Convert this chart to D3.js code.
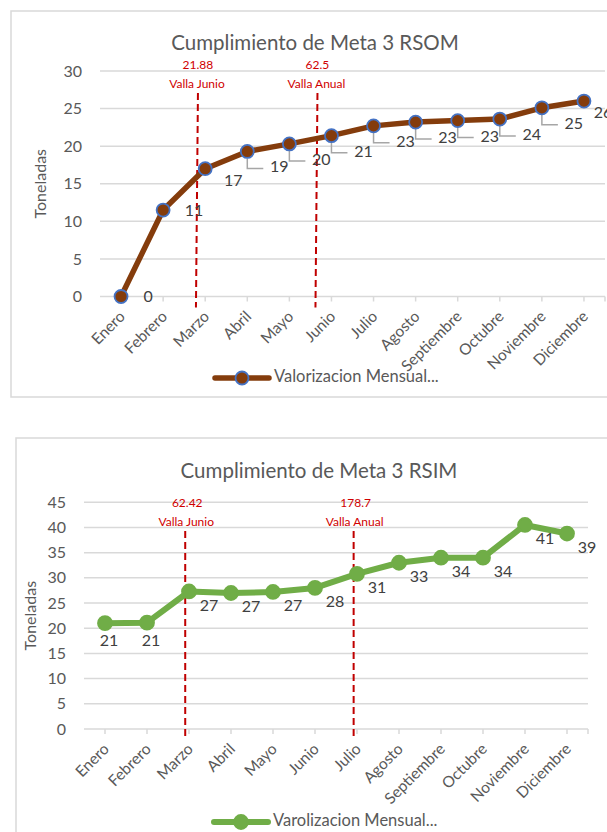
<!DOCTYPE html>
<html>
<head>
<meta charset="utf-8">
<script src="https://cdn.jsdelivr.net/npm/d3@7"></script>
<style>
  body { margin: 0; background: #fff; }
  text { font-family: Lato, "Open Sans", sans-serif; }
</style>
</head>
<body>
<svg id="viz"></svg>
<script>
// Month categories shared by both charts
let months = ['Enero', 'Febrero', 'Marzo', 'Abril', 'Mayo', 'Junio', 'Julio',
    'Agosto', 'Septiembre', 'Octubre', 'Noviembre', 'Diciembre'];

// RSOM series (tons)
let rsomValues = [0, 11.5, 17.0, 19.3, 20.3, 21.4, 22.7, 23.2, 23.4, 23.6, 25.1, 26.0];
let rsomLabels = ['0', '11', '17', '19', '20', '21', '23', '23', '23', '24', '25', '26'];
let rsomTicks = [0, 5, 10, 15, 20, 25, 30];
// "vallas": value + where the line sits, in month-index units
let rsomVallaNames = ['Valla Junio', 'Valla Anual'];
let rsomVallaValues = ['21.88', '62.5'];
let rsomVallaIndex = [1.78, 4.62];

// RSIM series
let rsimValues = [21.0, 21.1, 27.3, 27.0, 27.2, 28.0, 30.8, 33.0, 34.0, 34.0, 40.5, 38.8];
let rsimLabels = ['21', '21', '27', '27', '27', '28', '31', '33', '34', '34', '41', '39'];
let rsimTicks = [0, 5, 10, 15, 20, 25, 30, 35, 40, 45];
let rsimVallaNames = ['Valla Junio', 'Valla Anual'];
let rsimVallaValues = ['62.42', '178.7'];
let rsimVallaIndex = [1.91, 5.92];

let svg = d3.select('#viz')
    .attr('width', 607)
    .attr('height', 832);

let gridColor = '#d9d9d9';
let textColor = '#595959';
let red = '#d00000';

function drawChart(cfg) {
    let g = svg.append('g');

    // outer frame (runs off the right edge like the screenshot)
    g.append('rect')
        .attr('x', cfg.frame[0]).attr('y', cfg.frame[1])
        .attr('width', cfg.frame[2]).attr('height', cfg.frame[3])
        .attr('fill', 'none')
        .attr('stroke', gridColor)
        .attr('stroke-width', 1.5);

    let x = d3.scaleBand()
        .domain(months)
        .range([cfg.left, cfg.right]);
    let xi = d3.scaleLinear()
        .domain([-0.5, months.length - 0.5])
        .range([cfg.left, cfg.right]);
    let y = d3.scaleLinear()
        .domain([0, cfg.yMax])
        .range([cfg.bottom, cfg.top]);
    let cx = d => x(d) + x.bandwidth() / 2;

    // title
    g.append('text')
        .attr('x', cfg.titleX).attr('y', cfg.titleY)
        .attr('text-anchor', 'middle')
        .attr('dominant-baseline', 'middle')
        .attr('fill', textColor)
        .style('font-size', '20.5px')
        .text(cfg.title);

    // gridlines
    g.selectAll('.grid').data(cfg.ticks).enter().append('line')
        .attr('x1', cfg.left).attr('x2', cfg.right)
        .attr('y1', d => y(d)).attr('y2', d => y(d))
        .attr('stroke', gridColor)
        .attr('stroke-width', 1.5);

    // y axis labels
    let yAxis = d3.axisLeft(y).tickValues(cfg.ticks).tickSize(0).tickPadding(18);
    let ya = g.append('g').attr('transform', `translate(${cfg.left},0)`).call(yAxis);
    ya.select('.domain').remove();
    ya.selectAll('text')
        .attr('fill', textColor)
        .style('font-size', '16px')
        .style('font-family', 'Lato, sans-serif');

    g.append('text')
        .attr('transform', `translate(${cfg.axisTitleX},${(cfg.top + cfg.bottom) / 2}) rotate(-90)`)
        .attr('text-anchor', 'middle')
        .attr('dominant-baseline', 'middle')
        .attr('fill', textColor)
        .style('font-size', '16px')
        .text('Toneladas');

    // x ticks at category centres + right end
    let tickXs = months.map(cx).concat([cfg.right]);
    g.selectAll('.xtick').data(tickXs).enter().append('line')
        .attr('x1', d => d).attr('x2', d => d)
        .attr('y1', cfg.bottom).attr('y2', cfg.bottom + 5)
        .attr('stroke', gridColor)
        .attr('stroke-width', 1.5);

    // x labels, rotated
    g.selectAll('.xlab').data(months).enter().append('text')
        .attr('transform', d => `translate(${cx(d) + 5},${cfg.bottom + 21}) rotate(-45)`)
        .attr('text-anchor', 'end')
        .attr('fill', textColor)
        .style('font-size', '15.5px')
        .text(d => d);

    // vallas
    cfg.vallaIndex.forEach((v, i) => {
        let vx = xi(v);
        g.append('line')
            .attr('x1', vx + cfg.vallaLean).attr('x2', vx)
            .attr('y1', cfg.vallaTop).attr('y2', cfg.bottom + 11)
            .attr('stroke', '#c00000')
            .attr('stroke-width', 2)
            .attr('stroke-dasharray', '7,4');
        g.append('text')
            .attr('x', vx + 2).attr('y', cfg.vallaTop - 27)
            .attr('text-anchor', 'middle')
            .attr('dominant-baseline', 'middle')
            .attr('fill', red)
            .style('font-size', '12px')
            .text(cfg.vallaValues[i]);
        g.append('text')
            .attr('x', vx + 1).attr('y', cfg.vallaTop - 8)
            .attr('text-anchor', 'middle')
            .attr('dominant-baseline', 'middle')
            .attr('fill', red)
            .style('font-size', '12px')
            .text(cfg.vallaNames[i]);
    });

    let pts = months.map((m, i) => ({ m: m, v: cfg.values[i], label: cfg.labels[i], i: i }));

    // leader lines
    g.selectAll('.leader').data(pts.filter(d => cfg.leader(d.i))).enter().append('path')
        .attr('d', d => {
            let px = cx(d.m), py = y(d.v);
            let l = cfg.labelPos(d.i);
            return `M${px},${py + 7}V${py + l[1]}H${px + l[0] - 16}`;
        })
        .attr('fill', 'none')
        .attr('stroke', '#a6a6a6')
        .attr('stroke-width', 1.5);

    // series line
    let line = d3.line()
        .x(d => cx(d.m))
        .y(d => y(d.v));
    g.append('path')
        .datum(pts)
        .attr('d', line)
        .attr('fill', 'none')
        .attr('stroke', cfg.color)
        .attr('stroke-width', cfg.lineWidth)
        .attr('stroke-linejoin', 'round');

    g.selectAll('.dot').data(pts).enter().append('circle')
        .attr('cx', d => cx(d.m))
        .attr('cy', d => y(d.v))
        .attr('r', cfg.r)
        .attr('fill', cfg.color)
        .attr('stroke', cfg.markerStroke)
        .attr('stroke-width', 1.8);

    // data labels
    g.selectAll('.dlab').data(pts).enter().append('text')
        .attr('x', d => cx(d.m) + cfg.labelPos(d.i)[0])
        .attr('y', d => y(d.v) + cfg.labelPos(d.i)[1])
        .attr('text-anchor', 'middle')
        .attr('dominant-baseline', 'middle')
        .attr('fill', '#404040')
        .style('font-size', '16px')
        .text(d => d.label);

    // legend
    let lg = g.append('g').attr('transform', `translate(${cfg.legendX},${cfg.legendY})`);
    lg.append('line')
        .attr('x1', 0).attr('x2', 54)
        .attr('stroke', cfg.color)
        .attr('stroke-width', cfg.lineWidth)
        .attr('stroke-linecap', 'round');
    lg.append('circle')
        .attr('cx', 27).attr('r', cfg.r)
        .attr('fill', cfg.color)
        .attr('stroke', cfg.markerStroke)
        .attr('stroke-width', 1.8);
    lg.append('text')
        .attr('x', 59)
        .attr('dominant-baseline', 'middle')
        .attr('fill', textColor)
        .style('font-size', '16.5px')
        .text(cfg.legend);
}

drawChart({
    frame: [11, 11, 620, 386],
    title: 'Cumplimiento de Meta 3 RSOM', titleX: 315, titleY: 45,
    left: 100, right: 605, top: 71, bottom: 296.5,
    yMax: 30, ticks: rsomTicks, axisTitleX: 42,
    values: rsomValues, labels: rsomLabels,
    vallaNames: rsomVallaNames, vallaValues: rsomVallaValues, vallaIndex: rsomVallaIndex,
    vallaTop: 93, vallaLean: 2,
    color: '#843c0c', markerStroke: '#4472c4', lineWidth: 5.5, r: 6.5,
    leader: i => i >= 3 && i <= 10,
    labelPos: i => i === 0 ? [27, 1] : i === 1 ? [31, 2] : i === 2 ? [28, 13] : i === 11 ? [19, 13] : [32, 17],
    legend: 'Valorizacion Mensual...', legendX: 215, legendY: 378
});

drawChart({
    frame: [16, 438, 620, 420],
    title: 'Cumplimiento de Meta 3 RSIM', titleX: 319, titleY: 473,
    left: 84, right: 588, top: 502.3, bottom: 729,
    yMax: 45, ticks: rsimTicks, axisTitleX: 32,
    values: rsimValues, labels: rsimLabels,
    vallaNames: rsimVallaNames, vallaValues: rsimVallaValues, vallaIndex: rsimVallaIndex,
    vallaTop: 531, vallaLean: 0,
    color: '#70ad47', markerStroke: '#70ad47', lineWidth: 6, r: 7,
    leader: i => false,
    labelPos: i => i < 2 ? [4, 19] : [20, 15],
    legend: 'Varolizacion Mensual...', legendX: 214, legendY: 822
});
</script>
</body>
</html>
